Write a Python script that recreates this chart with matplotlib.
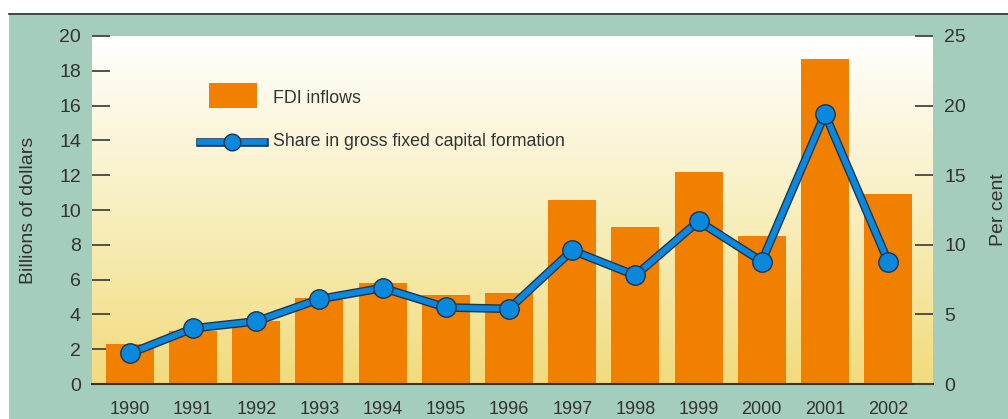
import matplotlib
matplotlib.use("Agg")
import matplotlib.pyplot as plt
import matplotlib.patheffects as pe
from matplotlib.patches import Rectangle
from matplotlib.lines import Line2D
import numpy as np

# Dati
anni = ["1990", "1991", "1992", "1993", "1994", "1995", "1996",
        "1997", "1998", "1999", "2000", "2001", "2002"]
fdi_inflows = [2.3, 3.05, 3.6, 4.95, 5.8, 5.1, 5.25, 10.6, 9.0, 12.2, 8.5, 18.7, 10.9]
quota_fcf = [2.2, 4.0, 4.5, 6.1, 6.9, 5.5, 5.4, 9.6, 7.8, 11.7, 8.8, 19.4, 8.8]

plt.rcParams['font.family'] = ['Liberation Sans', 'DejaVu Sans']
testo = '#333333'
arancio = '#f28000'
blu = '#0a88dd'
bordo = '#1d3550'
contorno = [pe.Stroke(linewidth=6.2, foreground=bordo), pe.Normal()]

fig = plt.figure(figsize=(10.08, 4.19), dpi=100)
fig.patch.set_facecolor('white')

# sfondo verde e linea nera in alto
fig.patches.append(Rectangle((9 / 1008, 0), 1, 1 - 15 / 419, transform=fig.transFigure,
                             facecolor='#a5cdbc', edgecolor='none', zorder=-10))
fig.lines.append(Line2D([9 / 1008, 1], [1 - 14.5 / 419] * 2, transform=fig.transFigure,
                        color='#222222', lw=1.2, zorder=-9))

ax = fig.add_axes([92 / 1008, 35 / 419, 841 / 1008, 348 / 419])
ax.set_facecolor('none')

x = np.arange(len(anni))
ax.set_xlim(-0.6, len(anni) - 0.29)
ax.set_ylim(0, 20)

# gradiente bianco -> giallo
grad = np.linspace(0, 1, 256).reshape(-1, 1)
cmap = matplotlib.colors.LinearSegmentedColormap.from_list('g', ['#ffffff', '#f8efc0', '#f2db7c'])
ax.imshow(grad, aspect='auto', cmap=cmap, extent=[-0.6, len(anni) - 0.29, 0, 20],
          origin='upper', zorder=0)

ax.bar(x, fdi_inflows, width=0.76, color=arancio, zorder=2)

ax.set_xticks(x)
ax.set_xticklabels(anni, fontsize=13, color=testo)
ax.set_yticks(range(0, 21, 2))
ax.tick_params(axis='x', length=0, pad=12)
ax.tick_params(axis='y', direction='in', length=13, width=1.3, color='#444444',
               labelsize=14, labelcolor=testo, pad=8)
for s in ['left', 'right', 'top']:
    ax.spines[s].set_visible(False)
ax.spines['bottom'].set_color('#333333')
ax.spines['bottom'].set_linewidth(1.5)
ax.spines['bottom'].set_zorder(5)
ax.set_ylabel('Billions of dollars', fontsize=14, color=testo)
ax.yaxis.set_label_coords(-0.065, 0.5)

ax2 = ax.twinx()
ax2.set_ylim(0, 25)
ax2.set_yticks(range(0, 26, 5))
ax2.tick_params(axis='y', direction='in', length=13, width=1.3, color='#444444',
                labelsize=14, labelcolor=testo, pad=8)
for s in ax2.spines.values():
    s.set_visible(False)
ax2.set_ylabel('Per cent', fontsize=14, color=testo, rotation=90)
ax2.yaxis.set_label_coords(1.068, 0.5)

# linea con contorno scuro, poi i marker con bordo sottile
ax2.plot(x, quota_fcf, color=blu, lw=4.2, zorder=4, path_effects=contorno)
ax2.plot(x, quota_fcf, linestyle='none', marker='o', markersize=14,
         markerfacecolor=blu, markeredgecolor=bordo, markeredgewidth=1.0, zorder=5)

# legenda
ax2.add_patch(Rectangle((0.139, 0.793), 0.057, 0.072, transform=ax2.transAxes,
                        facecolor=arancio, edgecolor='none', zorder=6))
ax2.add_line(Line2D([0.128, 0.2045], [0.696, 0.696], transform=ax2.transAxes,
                    color=blu, lw=4.2, zorder=6, path_effects=contorno))
ax2.add_line(Line2D([0.166], [0.696], transform=ax2.transAxes, marker='o', markersize=12,
                    markerfacecolor=blu, markeredgecolor=bordo, markeredgewidth=1.0,
                    linestyle='none', zorder=7))
ax2.text(0.215, 0.819, 'FDI inflows', transform=ax2.transAxes, fontsize=12.8,
         color=testo, va='center', ha='left')
ax2.text(0.215, 0.698, 'Share in gross fixed capital formation', transform=ax2.transAxes,
         fontsize=12.8, color=testo, va='center', ha='left')

plt.savefig('out.png', dpi=100)
